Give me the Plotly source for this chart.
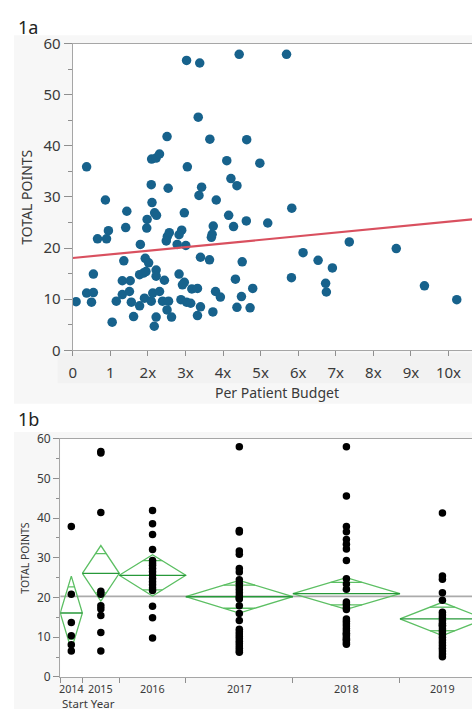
import math
import plotly.graph_objects as go

W, H = 472, 718

# ---------------- 1a data ----------------
budget = [0.37, 0.87, 2.10, 2.22, 2.31, 2.51, 2.09, 2.11, 2.54, 3.03, 3.38, 3.34, 3.65, 3.05,
          4.10, 4.21, 4.37, 3.43, 3.36, 3.82, 4.43, 5.69, 4.63, 4.98, 5.83, 1.44, 1.98, 2.18,
          2.23, 2.97, 1.41, 1.97, 0.95, 0.90, 0.66, 2.57, 2.52, 2.49, 2.90, 2.83, 2.78, 3.01,
          3.71, 3.69, 3.74, 4.15, 4.28, 1.80, 1.93, 2.02, 1.36, 3.40, 3.64, 0.55, 1.78, 1.88,
          1.95, 2.22, 2.22, 2.44, 2.83, 2.97, 2.92, 1.32, 1.53, 3.17, 3.32, 3.80, 3.93, 4.33,
          0.09, 0.37, 0.55, 0.50, 1.16, 1.32, 1.51, 1.56, 1.78, 1.91, 2.09, 2.13, 2.31, 2.39,
          2.55, 2.51, 2.63, 2.88, 3.03, 3.14, 3.40, 3.32, 3.73, 4.37, 4.49, 1.05, 1.62, 2.22,
          2.17, 4.51, 4.62, 5.19, 7.36, 8.61, 6.13, 6.53, 6.91, 5.82, 6.73, 6.75, 4.79, 4.72,
          9.36, 10.22]
total_points_a = [35.9, 29.4, 37.4, 37.6, 38.4, 41.8, 32.4, 28.9, 31.7, 56.7, 56.2, 45.6, 41.3, 35.9,
                  37.1, 33.6, 32.2, 31.9, 30.3, 29.4, 57.9, 57.9, 41.2, 36.6, 27.8, 27.2, 25.6, 26.9,
                  26.4, 26.9, 24.0, 23.9, 23.4, 21.8, 21.8, 23.0, 22.3, 21.4, 23.5, 22.6, 20.7, 20.5,
                  22.7, 22.1, 24.3, 26.4, 24.2, 20.7, 18.0, 17.1, 17.5, 18.2, 17.7, 14.9, 14.8, 15.1,
                  15.4, 15.7, 14.5, 13.7, 14.9, 13.3, 12.8, 13.6, 13.6, 12.0, 12.1, 11.5, 10.4, 13.9,
                  9.5, 11.2, 11.3, 9.4, 9.6, 10.9, 11.5, 9.4, 8.7, 10.2, 9.6, 11.2, 11.5, 9.6,
                  9.6, 7.9, 6.5, 9.9, 9.4, 9.2, 8.5, 6.8, 7.5, 8.4, 10.5, 5.5, 6.6, 6.5,
                  4.7, 17.3, 25.3, 24.9, 21.2, 19.9, 19.1, 17.6, 16.1, 14.2, 13.1, 11.4, 12.1, 8.3,
                  12.6, 9.9]
reg_intercept = 18.05
reg_slope = 0.71
budget_tick_values = [0, 1, 2, 3, 4, 5, 6, 7, 8, 9, 10]
budget_tick_labels = ["0", "1", "2x", "3x", "4x", "5x", "6x", "7x", "8x", "9x", "10x"]

# ---------------- 1b data ----------------
years = ["2014", "2015", "2016", "2017", "2018", "2019"]
pts_2014 = [37.9, 20.8, 13.7, 10.4, 8.1, 6.5]
pts_2015 = [56.8, 56.4, 41.4, 21.6, 20.8, 17.9, 17.1, 15.5, 11.2, 6.5]
pts_2016 = [41.9, 38.6, 35.9, 32.1, 29.3, 28.7, 28.1, 27.3, 26.5, 25.7, 24.8, 24.0, 23.2, 22.4,
            21.8, 17.8, 14.9, 9.8]
pts_2017 = [58.0, 36.9, 36.5, 31.7, 30.9, 27.3, 26.4, 24.5, 23.6, 22.8, 22.0, 21.2, 20.4, 19.6,
            17.9, 16.0, 14.2, 12.0, 11.4, 10.8, 10.2, 9.6, 9.0, 8.4, 7.8, 7.2, 6.6, 6.2, 19.9]
pts_2018 = [58.0, 45.6, 37.9, 36.6, 34.6, 33.4, 32.2, 29.3, 24.7, 23.4, 22.1, 18.9, 18.3, 17.5,
            17.0, 14.6, 14.0, 13.4, 12.8, 12.2, 11.6, 11.0, 10.8, 10.4, 9.8, 9.5, 9.2, 8.6, 8.2]
pts_2019 = [41.3, 25.4, 24.6, 21.2, 19.3, 16.3, 15.6, 14.9, 14.2, 13.5, 13.0, 12.8, 12.1, 11.4,
            10.7, 10.0, 9.3, 8.6, 7.9, 7.2, 6.5, 5.8, 5.1]
year_means = [16.1, 26.1, 25.6, 20.2, 21.0, 14.6]
year_ci = [9.3, 7.0, 5.2, 4.1, 4.0, 4.2]
grand_mean = 20.3

groups = [pts_2014, pts_2015, pts_2016, pts_2017, pts_2018, pts_2019]

# ---------------- helpers ----------------
def px(x):
    return x / W

def py(y):
    return 1 - y / H

FONT = "Noto Sans, Open Sans, DejaVu Sans, sans-serif"
AXIS_COL = "#a6a6a6"
TICK_COL = "#8f8f8f"
TXT = "#3a3a3a"
DOT_A = "#17628c"
GREEN = "#5cbf63"
GREEN_D = "#27993a"

fig = go.Figure()

# ---- 1a traces ----
fig.add_trace(go.Scatter(
    x=budget, y=total_points_a, mode="markers",
    marker=dict(color=DOT_A, size=9.5, line=dict(width=0)),
    xaxis="x", yaxis="y", showlegend=False, hoverinfo="x+y"))
x_line = [0, max(budget) * 1.1]
fig.add_trace(go.Scatter(
    x=x_line, y=[reg_intercept + reg_slope * v for v in x_line], mode="lines",
    line=dict(color="#d9505f", width=2.2),
    xaxis="x", yaxis="y", showlegend=False, hoverinfo="skip"))

# ---- 1b geometry (widths proportional to counts) ----
counts = [len(g) for g in groups]
total_n = sum(counts)
starts = []
acc = 0
for n in counts:
    starts.append(acc)
    acc += n
bounds = starts + [total_n]
centers = [s + n / 2 for s, n in zip(starts, counts)]

# grand mean line
fig.add_trace(go.Scatter(
    x=[0, total_n], y=[grand_mean, grand_mean], mode="lines",
    line=dict(color="#ababab", width=1.6),
    xaxis="x2", yaxis="y2", showlegend=False, hoverinfo="skip"))

k = 1 / math.sqrt(2)
for s, n, c, m, ci in zip(starts, counts, centers, year_means, year_ci):
    e = s + n
    fig.add_trace(go.Scatter(
        x=[s, c, e, c, s], y=[m, m + ci, m, m - ci, m], mode="lines",
        line=dict(color=GREEN, width=1.3),
        xaxis="x2", yaxis="y2", showlegend=False, hoverinfo="skip"))
    hw = (n / 2) * (1 - k)
    for sign in (1, -1):
        yy = m + sign * ci * k
        fig.add_trace(go.Scatter(
            x=[c - hw, c + hw], y=[yy, yy], mode="lines",
            line=dict(color=GREEN, width=1.3),
            xaxis="x2", yaxis="y2", showlegend=False, hoverinfo="skip"))
    fig.add_trace(go.Scatter(
        x=[s, e], y=[m, m], mode="lines",
        line=dict(color=GREEN_D, width=1.3),
        xaxis="x2", yaxis="y2", showlegend=False, hoverinfo="skip"))

for c, g in zip(centers, groups):
    fig.add_trace(go.Scatter(
        x=[c] * len(g), y=g, mode="markers",
        marker=dict(color="black", size=7.5, line=dict(width=0)),
        xaxis="x2", yaxis="y2", showlegend=False, hoverinfo="y"))

# ---------------- layout ----------------
a_left, a_top, a_bottom = 69.3, 33.5, 349
b_left, b_top, b_bottom = 56.7, 440, 685
a_xmax = (W - a_left) / 37.9
b_xmax = total_n * (W - b_left) / (485 - b_left)

shapes = [
    dict(type="rect", xref="paper", yref="paper", x0=px(10), x1=1, y0=py(404), y1=py(25),
         fillcolor="#f7f7f7", line=dict(width=0), layer="below"),
    dict(type="rect", xref="paper", yref="paper", x0=px(54), x1=1, y0=py(383), y1=py(352),
         fillcolor="#f2f2f2", line=dict(width=0), layer="below"),
    dict(type="rect", xref="paper", yref="paper", x0=px(a_left), x1=1, y0=py(a_bottom), y1=py(a_top),
         fillcolor="white", line=dict(width=0), layer="below"),
    dict(type="rect", xref="paper", yref="paper", x0=px(10), x1=1, y0=0, y1=py(433),
         fillcolor="#f7f7f7", line=dict(width=0), layer="below"),
    dict(type="rect", xref="paper", yref="paper", x0=px(b_left), x1=1, y0=py(b_bottom), y1=py(b_top),
         fillcolor="white", line=dict(width=0), layer="below"),
]

annotations = [
    dict(text="1a", xref="paper", yref="paper", x=px(12), y=py(16), xanchor="left", yanchor="middle",
         showarrow=False, font=dict(family=FONT, size=18, color="#222")),
    dict(text="1b", xref="paper", yref="paper", x=px(12), y=py(420), xanchor="left", yanchor="middle",
         showarrow=False, font=dict(family=FONT, size=18, color="#222")),
    dict(text="TOTAL POINTS", xref="paper", yref="paper", x=px(23), y=py((a_top + a_bottom) / 2),
         textangle=-90, showarrow=False, xanchor="center", yanchor="middle",
         font=dict(family=FONT, size=14, color=TXT)),
    dict(text="Per Patient Budget", xref="paper", yref="paper", x=px(275), y=py(392),
         showarrow=False, xanchor="center", yanchor="middle",
         font=dict(family=FONT, size=14, color=TXT)),
    dict(text="TOTAL POINTS", xref="paper", yref="paper", x=px(21), y=py((b_top + b_bottom) / 2),
         textangle=-90, showarrow=False, xanchor="center", yanchor="middle",
         font=dict(family=FONT, size=10.5, color=TXT)),
    dict(text="Start Year", xref="paper", yref="paper", x=px(56), y=py(712),
         showarrow=False, xanchor="left", yanchor="middle",
         font=dict(family=FONT, size=11.5, color=TXT)),
]
for c, yr in zip(centers, years):
    annotations.append(dict(text=yr, xref="x2", yref="paper", x=c, y=py(697),
                            showarrow=False, xanchor="center", yanchor="middle",
                            font=dict(family=FONT, size=10.8, color=TXT)))

fig.update_layout(
    width=W, height=H,
    margin=dict(l=0, r=0, t=0, b=0),
    paper_bgcolor="white",
    plot_bgcolor="rgba(0,0,0,0)",
    font=dict(family=FONT, color=TXT),
    shapes=shapes,
    annotations=annotations,
    xaxis=dict(domain=[px(a_left), 1], range=[0, a_xmax], anchor="y",
               tickvals=budget_tick_values, ticktext=budget_tick_labels,
               ticks="outside", ticklen=5, tickcolor=TICK_COL, tickwidth=1,
               showline=True, linecolor=AXIS_COL, linewidth=1.2, mirror=True,
               showgrid=False, zeroline=False, ticklabelstandoff=4,
               tickfont=dict(family=FONT, size=15, color=TXT)),
    yaxis=dict(domain=[py(a_bottom), py(a_top)], range=[0, 60], anchor="x",
               dtick=10, ticks="outside", ticklen=8, tickcolor=TICK_COL, tickwidth=1,
               minor=dict(dtick=5, ticks="outside", ticklen=4, tickcolor=TICK_COL),
               showline=True, linecolor=AXIS_COL, linewidth=1.2,
               showgrid=False, zeroline=False,
               tickfont=dict(family=FONT, size=15, color=TXT)),
    xaxis2=dict(domain=[px(b_left), 1], range=[0, b_xmax], anchor="y2",
                tickvals=bounds, ticktext=[""] * len(bounds),
                ticks="outside", ticklen=5, tickcolor=TICK_COL, tickwidth=1,
                showline=True, linecolor=AXIS_COL, linewidth=1.2, mirror=True,
                showgrid=False, zeroline=False, showticklabels=False),
    yaxis2=dict(domain=[py(b_bottom), py(b_top)], range=[0, 60], anchor="x2",
                dtick=10, ticks="outside", ticklen=6, tickcolor=TICK_COL, tickwidth=1,
                minor=dict(dtick=5, ticks="outside", ticklen=3, tickcolor=TICK_COL),
                showline=True, linecolor=AXIS_COL, linewidth=1.2,
                showgrid=False, zeroline=False,
                tickfont=dict(family=FONT, size=12, color=TXT)),
)

fig.write_html("out.html",
               config={"displayModeBar": False},
               post_script="document.body.style.margin='0';document.body.style.overflow='hidden';")
